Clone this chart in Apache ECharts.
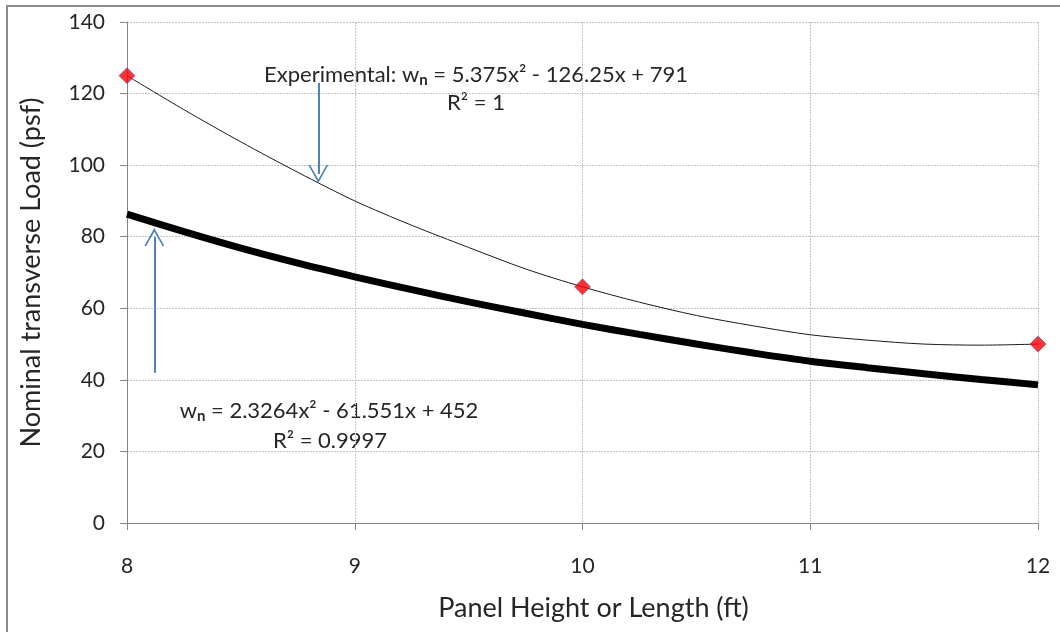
<!DOCTYPE html>
<html>
<head>
<meta charset="utf-8">
<script src="https://cdn.jsdelivr.net/npm/echarts@6/dist/echarts.min.js"></script>
<style>
    * { margin: 0; padding: 0; }
    body { background: #fff; }
    #main { width: 1060px; height: 632px; }
</style>
</head>
<body>
<div id="main"></div>
<script>
// panel height (ft)
var xTrend = [8, 8.25, 8.5, 8.75, 9, 9.25, 9.5, 9.75, 10, 10.25, 10.5, 10.75, 11, 11.25, 11.5, 11.75, 12];
// thin trend through the experimental points
var expTrend = [125, 115.5, 106.5, 98, 90, 83.2, 77, 71, 66, 61.7, 58, 55.1, 52.6, 51.1, 50, 49.7, 50];
// thick curve
var nominal = [86.3, 81.4, 76.8, 72.6, 68.8, 65.2, 61.8, 58.6, 55.5, 52.7, 50.0, 47.5, 45.2, 43.4, 41.7, 40.1, 38.6];
// experimental points
var xExp = [8, 10, 12];
var yExp = [125, 66, 50];

var yTicks = [0, 20, 40, 60, 80, 100, 120, 140];
var xTicks = [8, 9, 10, 11, 12];

function pairs(xs, ys) {
    return xs.map(function (x, i) { return [x, ys[i]]; });
}

// open arrow head, tip up (markLine rotates it along the line)
var chevron = 'path://M10,0 L0,18 L1.8,18 L10,3.6 L18.2,18 L20,18 Z';
var arrowBlue = '#4f81bd';
var font = 'Lato, "Open Sans", sans-serif';

var myChart = echarts.init(document.getElementById('main'));
var option = {
    animation: false,
    backgroundColor: '#fff',
    grid: { left: 127, right: 22, top: 22, bottom: 109 },
    xAxis: {
        type: 'value',
        min: xTicks[0],
        max: xTicks[xTicks.length - 1],
        interval: 1,
        name: 'Panel Height or Length (ft)',
        nameLocation: 'middle',
        nameGap: 72,
        nameTextStyle: { fontSize: 27, color: '#262626', fontFamily: font, padding: [0, 0, 0, 22] },
        axisLine: { lineStyle: { color: '#868686', width: 1 } },
        axisTick: { show: true, length: 7, lineStyle: { color: '#868686' } },
        axisLabel: { fontSize: 21, color: '#262626', margin: 33, fontFamily: font },
        splitLine: { show: true, lineStyle: { color: '#c4c4c4', type: [2, 1] } }
    },
    yAxis: {
        type: 'value',
        min: yTicks[0],
        max: yTicks[yTicks.length - 1],
        interval: 20,
        name: 'Nominal transverse Load (psf)',
        nameLocation: 'middle',
        nameGap: 82,
        nameTextStyle: { fontSize: 27, color: '#262626', fontFamily: font },
        axisLine: { show: true, lineStyle: { color: '#868686', width: 1 } },
        axisTick: { show: true, length: 7, lineStyle: { color: '#868686' } },
        axisLabel: { fontSize: 21, color: '#262626', margin: 22, fontFamily: font },
        splitLine: { show: true, lineStyle: { color: '#c4c4c4', type: [2, 1] } }
    },
    series: [
        {
            name: 'Experimental trend',
            type: 'line',
            smooth: 0.3,
            showSymbol: false,
            data: pairs(xTrend, expTrend),
            lineStyle: { color: '#1a1a1a', width: 1 },
            markLine: {
                silent: true,
                symbol: ['none', chevron],
                symbolSize: [20, 18],
                label: { show: false },
                lineStyle: { color: arrowBlue, width: 2, type: 'solid' },
                data: [
                    [{ coord: [8.84, 123] }, { coord: [8.84, 97.5] }],
                    [{ coord: [8.12, 42] }, { coord: [8.12, 79.9] }]
                ]
            },
            z: 3
        },
        {
            name: 'Nominal',
            type: 'line',
            smooth: 0.3,
            showSymbol: false,
            data: pairs(xTrend, nominal),
            lineStyle: { color: '#000', width: 7 },
            z: 2
        },
        {
            name: 'Experimental',
            type: 'scatter',
            symbol: 'diamond',
            symbolSize: 16,
            data: pairs(xExp, yExp),
            itemStyle: { color: '#ff0000', borderColor: '#4a5fa8', borderWidth: 0.8 },
            z: 5
        }
    ],
    graphic: [
        {
            type: 'rect',
            shape: { x: 7, y: 6, width: 1200, height: 800 },
            style: { fill: 'none', stroke: '#8c8c8c', lineWidth: 2 },
            silent: true
        },
        {
            type: 'text',
            x: 476, y: 75,
            style: {
                text: 'Experimental: w{sub|n} = 5.375x² - 126.25x + 791',
                font: '22px ' + font,
                fill: '#262626',
                align: 'center',
                verticalAlign: 'middle',
                rich: { sub: { fontSize: 15, fontWeight: 'bold', padding: [11, 0, 0, 0], fill: '#262626', fontFamily: font } }
            }
        },
        {
            type: 'text',
            x: 476, y: 103,
            style: {
                text: 'R² = 1',
                font: '22px ' + font,
                fill: '#262626',
                align: 'center',
                verticalAlign: 'middle'
            }
        },
        {
            type: 'text',
            x: 329, y: 411,
            style: {
                text: 'w{sub|n} = 2.3264x² - 61.551x + 452',
                font: '22px ' + font,
                fill: '#262626',
                align: 'center',
                verticalAlign: 'middle',
                rich: { sub: { fontSize: 15, fontWeight: 'bold', padding: [11, 0, 0, 0], fill: '#262626', fontFamily: font } }
            }
        },
        {
            type: 'text',
            x: 330, y: 441,
            style: {
                text: 'R² = 0.9997',
                font: '22px ' + font,
                fill: '#262626',
                align: 'center',
                verticalAlign: 'middle'
            }
        }
    ]
};
myChart.setOption(option);
</script>
</body>
</html>
